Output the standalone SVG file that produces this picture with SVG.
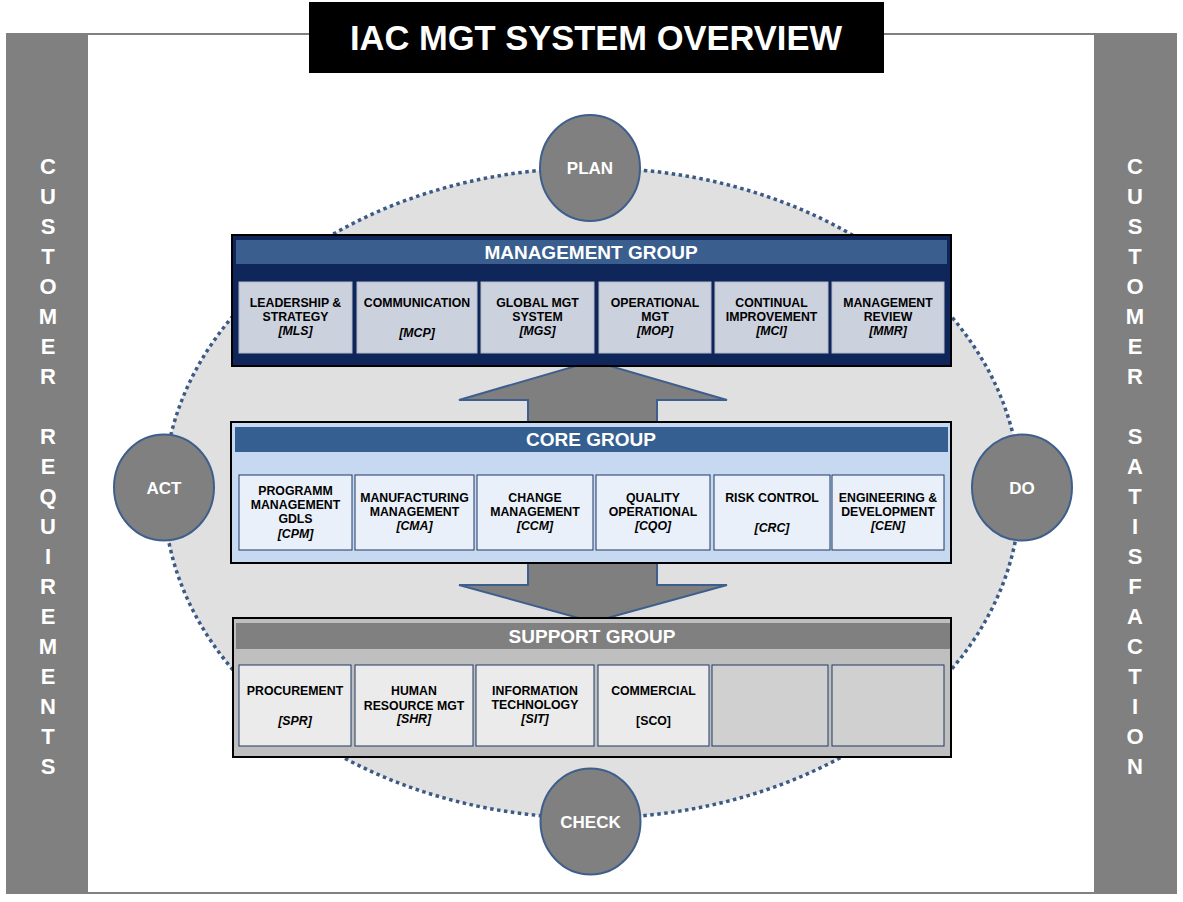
<svg xmlns="http://www.w3.org/2000/svg" width="1183" height="902" viewBox="0 0 1183 902">
<style>
text{font-family:"Liberation Sans",Arial,sans-serif;font-weight:bold;text-anchor:middle}
.t{font-size:34.5px;fill:#fff}
.side{font-size:22px;fill:#fff}
.hdr{font-size:19px;fill:#fff}
.pd{font-size:17px;fill:#fff}
.c{font-size:12.3px;fill:#000}
.i{font-style:italic}
.pdca{fill:#808080;stroke:#3e5f8b;stroke-width:2}
.mc{fill:#ccd1de;stroke:#b4b9c8;stroke-width:1}
.cc{fill:#eaf0f9;stroke:#1f3864;stroke-width:1}
.sc{fill:#ebebeb;stroke:#1f3864;stroke-width:1}
.se{fill:#d0d0d0;stroke:#1f3864;stroke-width:1}
.arrow{fill:#7f7f7f;stroke:#3e5f8e;stroke-width:2;stroke-linejoin:miter}
</style>
<rect width="1183" height="902" fill="#fff"/>
<!-- frame -->
<g id="frame">
<line x1="7" y1="34" x2="1177" y2="34" stroke="#808080" stroke-width="2"/>
<line x1="7" y1="893" x2="1177" y2="893" stroke="#808080" stroke-width="2"/>
<rect x="6" y="33" width="82" height="861" fill="#808080"/>
<rect x="1094" y="33" width="83" height="861" fill="#808080"/>
</g>
<g id="customer-requirements">
<text class="side" x="48" y="174">C</text>
<text class="side" x="48" y="204">U</text>
<text class="side" x="48" y="234">S</text>
<text class="side" x="48" y="264">T</text>
<text class="side" x="48" y="294">O</text>
<text class="side" x="48" y="324">M</text>
<text class="side" x="48" y="354">E</text>
<text class="side" x="48" y="384">R</text>
<text class="side" x="48" y="444">R</text>
<text class="side" x="48" y="474">E</text>
<text class="side" x="48" y="504">Q</text>
<text class="side" x="48" y="534">U</text>
<text class="side" x="48" y="564">I</text>
<text class="side" x="48" y="594">R</text>
<text class="side" x="48" y="624">E</text>
<text class="side" x="48" y="654">M</text>
<text class="side" x="48" y="684">E</text>
<text class="side" x="48" y="714">N</text>
<text class="side" x="48" y="744">T</text>
<text class="side" x="48" y="774">S</text>
</g>
<g id="customer-satisfaction">
<text class="side" x="1135" y="174">C</text>
<text class="side" x="1135" y="204">U</text>
<text class="side" x="1135" y="234">S</text>
<text class="side" x="1135" y="264">T</text>
<text class="side" x="1135" y="294">O</text>
<text class="side" x="1135" y="324">M</text>
<text class="side" x="1135" y="354">E</text>
<text class="side" x="1135" y="384">R</text>
<text class="side" x="1135" y="444">S</text>
<text class="side" x="1135" y="474">A</text>
<text class="side" x="1135" y="504">T</text>
<text class="side" x="1135" y="534">I</text>
<text class="side" x="1135" y="564">S</text>
<text class="side" x="1135" y="594">F</text>
<text class="side" x="1135" y="624">A</text>
<text class="side" x="1135" y="654">C</text>
<text class="side" x="1135" y="684">T</text>
<text class="side" x="1135" y="714">I</text>
<text class="side" x="1135" y="744">O</text>
<text class="side" x="1135" y="774">N</text>
</g>
<g id="title">
<rect x="309" y="2" width="575" height="71" fill="#000"/>
<text class="t" x="596" y="50">IAC MGT SYSTEM OVERVIEW</text>
</g>
<g id="cycle">
<ellipse cx="592" cy="493" rx="428" ry="325" fill="#e0e0e0" stroke="#3c5a86" stroke-width="3.5" stroke-dasharray="3.5 3.5"/>
</g>
<g id="connectors">
<polygon class="arrow" points="528,422 528,400 459,400 593,361 727,400 657,400 657,422"/>
<polygon class="arrow" points="528,563 528,585 459,585 593,622 727,585 657,585 657,563"/>
</g>
<g id="management-group">
<rect x="232" y="235" width="719" height="131" fill="#0e2659" stroke="#000" stroke-width="2"/>
<rect x="236" y="240" width="711" height="24" fill="#3a5f8f"/>
<text class="hdr" x="591" y="259">MANAGEMENT GROUP</text>
<g id="mls"><rect class="mc" x="239" y="282" width="113" height="71"/>
<text class="c" x="295.5" y="307">LEADERSHIP &amp;</text><text class="c" x="295.5" y="321">STRATEGY</text><text class="c i" x="295.5" y="335">[MLS]</text></g>
<g id="mcp"><rect class="mc" x="357" y="282" width="120" height="71"/>
<text class="c" x="417" y="307">COMMUNICATION</text><text class="c i" x="417" y="337">[MCP]</text></g>
<g id="mgs"><rect class="mc" x="481" y="282" width="113" height="71"/>
<text class="c" x="537.5" y="307">GLOBAL MGT</text><text class="c" x="537.5" y="321">SYSTEM</text><text class="c i" x="537.5" y="335">[MGS]</text></g>
<g id="mop"><rect class="mc" x="599" y="282" width="112" height="71"/>
<text class="c" x="655" y="307">OPERATIONAL</text><text class="c" x="655" y="321">MGT</text><text class="c i" x="655" y="335">[MOP]</text></g>
<g id="mci"><rect class="mc" x="715" y="282" width="113" height="71"/>
<text class="c" x="771.5" y="307">CONTINUAL</text><text class="c" x="771.5" y="321">IMPROVEMENT</text><text class="c i" x="771.5" y="335">[MCI]</text></g>
<g id="mmr"><rect class="mc" x="832" y="282" width="112" height="71"/>
<text class="c" x="888" y="307">MANAGEMENT</text><text class="c" x="888" y="321">REVIEW</text><text class="c i" x="888" y="335">[MMR]</text></g>
</g>
<g id="core-group">
<rect x="231" y="422" width="720" height="141" fill="#c6d9f1" stroke="#000" stroke-width="2"/>
<rect x="235" y="427" width="713" height="25" fill="#365f91"/>
<text class="hdr" x="591" y="446">CORE GROUP</text>
<g id="cpm"><rect class="cc" x="239" y="475" width="113" height="75"/>
<text class="c" x="295.5" y="495">PROGRAMM</text><text class="c" x="295.5" y="509">MANAGEMENT</text><text class="c" x="295.5" y="522.5">GDLS</text><text class="c i" x="295.5" y="538">[CPM]</text></g>
<g id="cma"><rect class="cc" x="355" y="475" width="119" height="75"/>
<text class="c" x="414.5" y="502">MANUFACTURING</text><text class="c" x="414.5" y="516">MANAGEMENT</text><text class="c i" x="414.5" y="529.5">[CMA]</text></g>
<g id="ccm"><rect class="cc" x="477" y="475" width="116" height="75"/>
<text class="c" x="535" y="502">CHANGE</text><text class="c" x="535" y="516">MANAGEMENT</text><text class="c i" x="535" y="529.5">[CCM]</text></g>
<g id="cqo"><rect class="cc" x="596" y="475" width="114" height="75"/>
<text class="c" x="653" y="502">QUALITY</text><text class="c" x="653" y="516">OPERATIONAL</text><text class="c i" x="653" y="529.5">[CQO]</text></g>
<g id="crc"><rect class="cc" x="714" y="475" width="116" height="75"/>
<text class="c" x="772" y="502">RISK CONTROL</text><text class="c i" x="772" y="532">[CRC]</text></g>
<g id="cen"><rect class="cc" x="832" y="475" width="112" height="75"/>
<text class="c" x="888" y="502">ENGINEERING &amp;</text><text class="c" x="888" y="516">DEVELOPMENT</text><text class="c i" x="888" y="529.5">[CEN]</text></g>
</g>
<g id="support-group">
<rect x="233" y="618" width="718" height="139" fill="#bfbfbf" stroke="#000" stroke-width="2"/>
<rect x="236" y="623" width="714" height="26" fill="#808080"/>
<text class="hdr" x="592" y="643">SUPPORT GROUP</text>
<g id="spr"><rect class="sc" x="239" y="665" width="112" height="81"/>
<text class="c" x="295" y="695">PROCUREMENT</text><text class="c i" x="295" y="724.5">[SPR]</text></g>
<g id="shr"><rect class="sc" x="355" y="665" width="118" height="81"/>
<text class="c" x="414" y="695">HUMAN</text><text class="c" x="414" y="709.5">RESOURCE MGT</text><text class="c i" x="414" y="723">[SHR]</text></g>
<g id="sit"><rect class="sc" x="476" y="665" width="118" height="81"/>
<text class="c" x="535" y="695">INFORMATION</text><text class="c" x="535" y="709">TECHNOLOGY</text><text class="c i" x="535" y="723">[SIT]</text></g>
<g id="sco"><rect class="sc" x="598" y="665" width="111" height="81"/>
<text class="c" x="653.5" y="695">COMMERCIAL</text><text class="c" x="653.5" y="724.5">[SCO]</text></g>
<g id="empty1"><rect class="se" x="712" y="665" width="116" height="81"/></g>
<g id="empty2"><rect class="se" x="832" y="665" width="112" height="81"/></g>
</g>
<g id="plan"><ellipse class="pdca" cx="590" cy="168" rx="50" ry="53"/><text class="pd" x="590" y="174">PLAN</text></g>
<g id="do"><ellipse class="pdca" cx="1022" cy="487.5" rx="50" ry="53"/><text class="pd" x="1022" y="494">DO</text></g>
<g id="check"><ellipse class="pdca" cx="590.5" cy="821.5" rx="50" ry="53"/><text class="pd" x="590.5" y="828">CHECK</text></g>
<g id="act"><ellipse class="pdca" cx="164" cy="487.5" rx="50" ry="53"/><text class="pd" x="164" y="494">ACT</text></g>
</svg>
